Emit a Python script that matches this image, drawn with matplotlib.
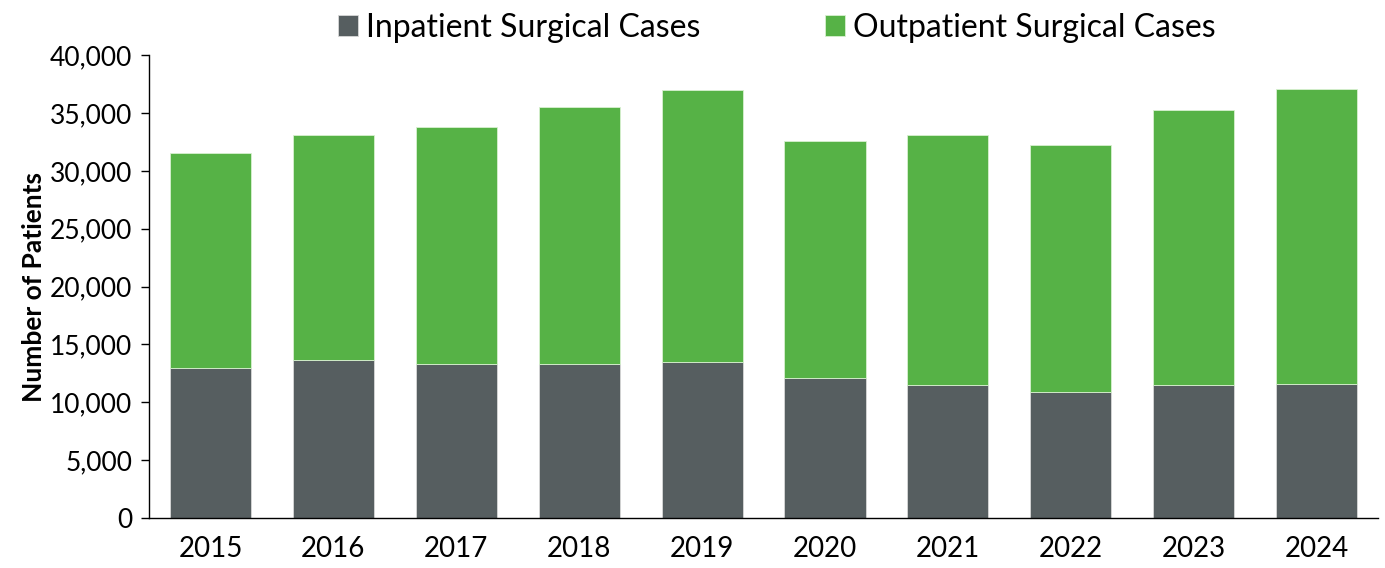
import matplotlib.pyplot as plt
from matplotlib.ticker import FuncFormatter

years = ["2015", "2016", "2017", "2018", "2019", "2020", "2021", "2022", "2023", "2024"]
inpatient = [12950, 13650, 13300, 13300, 13500, 12100, 11500, 10900, 11500, 11600]
totals = [31550, 33100, 33800, 35550, 37000, 32600, 33100, 32200, 35250, 37050]
outpatient = [t - i for t, i in zip(totals, inpatient)]

plt.rcParams["font.family"] = ["Lato", "DejaVu Sans"]

fig = plt.figure(figsize=(13.85, 5.68), dpi=100)
ax = fig.add_axes([0.1076, 0.088, 0.8874, 0.815])

x = range(len(years))
ax.bar(x, inpatient, width=0.66, color="#565e60", edgecolor="#d8d8d8", linewidth=0.6,
       label="Inpatient Surgical Cases")
ax.bar(x, outpatient, width=0.66, bottom=inpatient, color="#56b246", edgecolor="#d8f0d0",
       linewidth=0.6, label="Outpatient Surgical Cases")

ax.set_xlim(-0.5, 9.5)
ax.set_ylim(0, 40000)
ax.set_yticks(range(0, 40001, 5000))
ax.yaxis.set_major_formatter(FuncFormatter(lambda v, p: f"{int(v):,}"))
ax.set_xticks(list(x))
ax.set_xticklabels(years)
ax.tick_params(axis="y", labelsize=19, length=6, width=1, pad=6)
ax.tick_params(axis="x", labelsize=20, length=0, pad=13)
ax.set_ylabel("Number of Patients", fontsize=19, fontweight="bold", labelpad=3)

for s in ["top", "right"]:
    ax.spines[s].set_visible(False)
ax.spines["left"].set_linewidth(1)
ax.spines["bottom"].set_linewidth(1)

ax.legend(loc="center", bbox_to_anchor=(777 / 1385, 540 / 568), bbox_transform=fig.transFigure,
          ncol=2, frameon=False, fontsize=23, handlelength=0.63, handleheight=0.63,
          handletextpad=0.25, columnspacing=3.9, borderaxespad=0, borderpad=0)

fig.savefig("out.png", dpi=100)
